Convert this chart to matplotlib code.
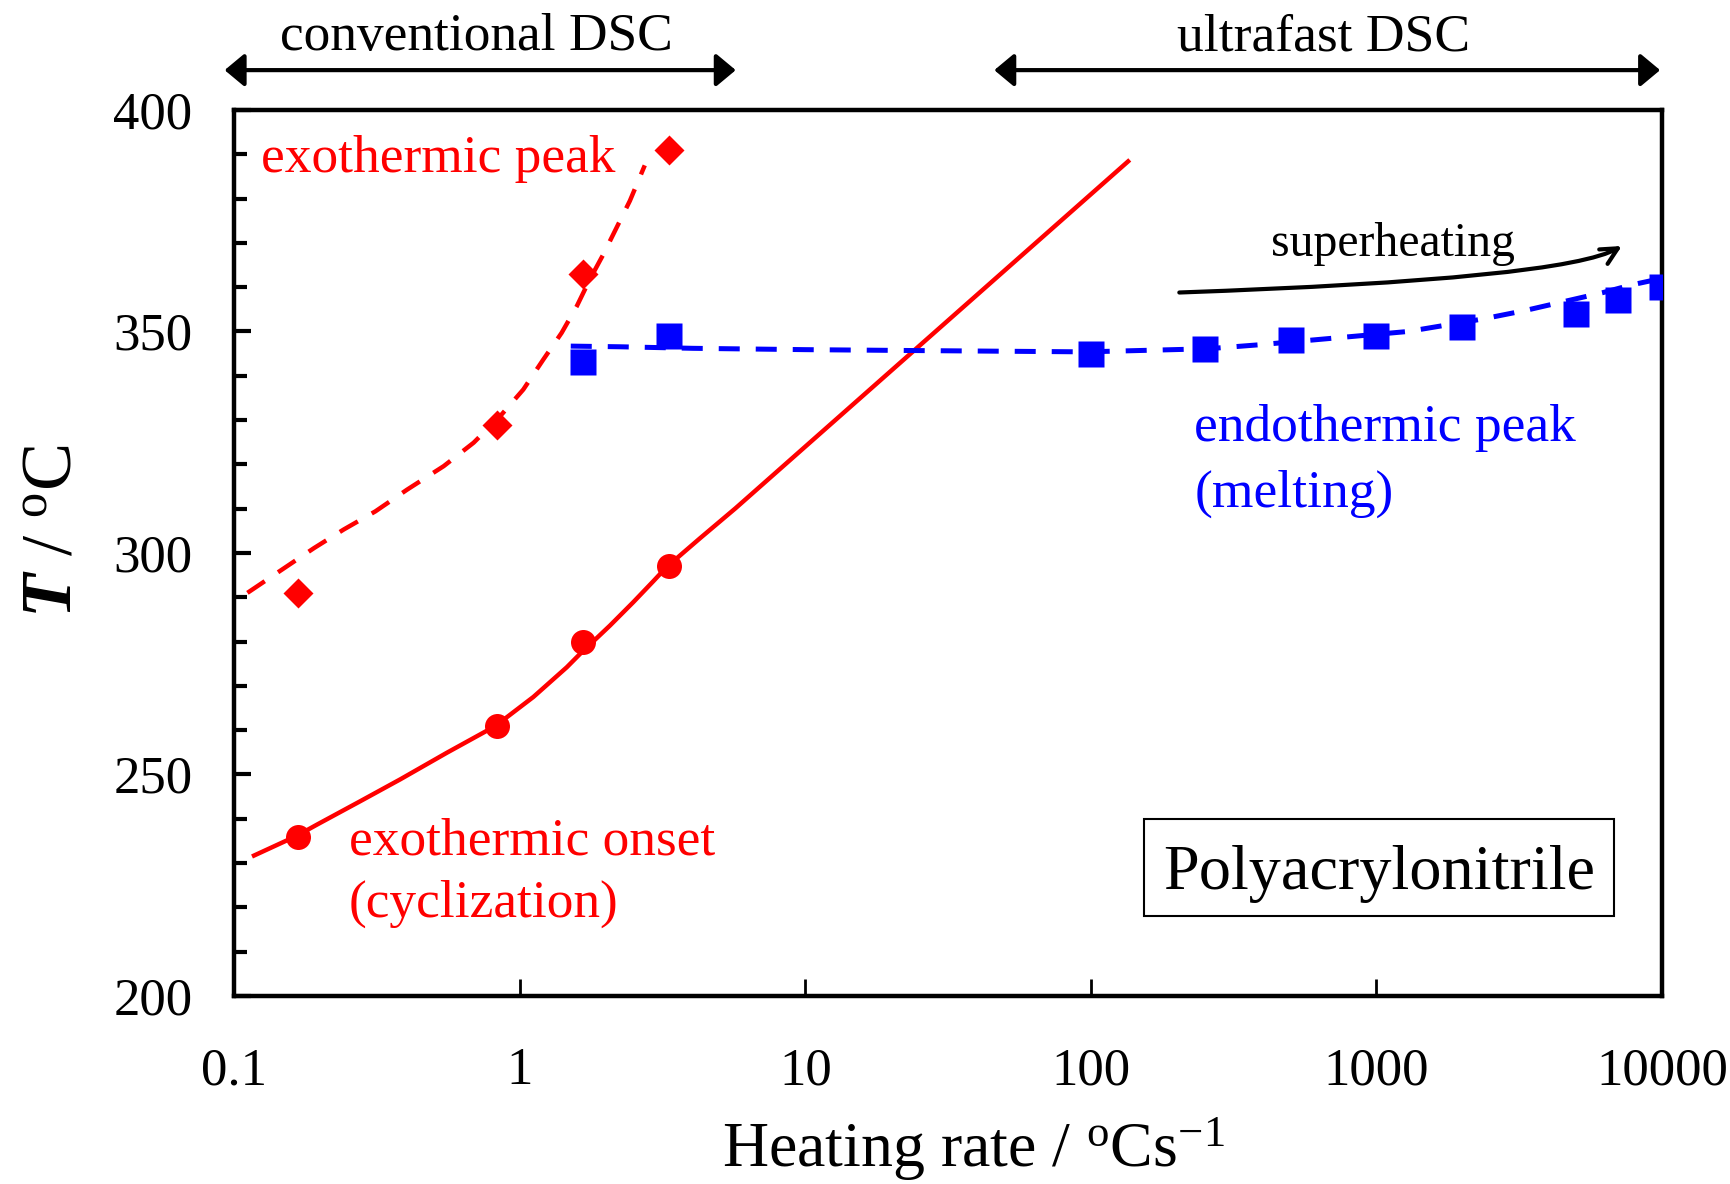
import matplotlib
matplotlib.use('Agg')
import matplotlib.pyplot as plt
from matplotlib.ticker import MultipleLocator, NullLocator, FixedLocator, FuncFormatter
from matplotlib.patches import Rectangle

plt.rcParams['font.family'] = ['Liberation Serif', 'DejaVu Serif']
plt.rcParams['mathtext.fontset'] = 'custom'
plt.rcParams['mathtext.rm'] = 'Liberation Serif'
plt.rcParams['mathtext.it'] = 'Liberation Serif:italic'
plt.rcParams['mathtext.bf'] = 'Liberation Serif:bold'
plt.rcParams['mathtext.bfit'] = 'Liberation Serif:italic:bold'

# ---- data
conv_rate = [0.167, 0.833, 1.667, 3.333]
exo_peak_T = [291, 329, 363, 391]
exo_onset_T = [236, 261, 280, 297]

melt_rate = [1.667, 3.333, 100, 250, 500, 1000, 2000, 5000, 7000, 10000]
melt_T = [343, 349, 345, 346, 348, 349, 351, 354, 357, 360]

# trend lines
peak_fit_rate = [0.1114, 0.1476, 0.1905, 0.2421, 0.3126, 0.4036, 0.5420, 0.6902,
                 0.8551, 1.030, 1.211, 1.403, 1.585, 1.762, 1.963, 2.183, 2.432, 2.742]
peak_fit_T = [291.0, 296.3, 301.1, 305.3, 309.4, 314.3, 319.6, 324.9,
              330.9, 336.9, 343.7, 349.7, 355.7, 361.8, 367.4, 373.4, 379.5, 387.5]

onset_fit_rate = [0.1175, 0.1652, 0.1954, 0.2773, 0.3819, 0.5559, 0.8204, 1.117, 1.462,
                  1.626, 2.070, 2.500, 2.935, 3.266, 4.276, 5.70, 135]
onset_fit_T = [231.7, 236.1, 238.7, 244.0, 248.9, 254.9, 260.9, 267.5, 274.2,
               277.2, 283.6, 288.9, 293.6, 296.8, 303.3, 310.1, 388.4]

melt_fit_rate = [1.51, 2.244, 4.046, 10, 23.93, 96.6, 256.4, 388.2, 653.1, 1288,
                 2344, 3296, 6223, 7798, 10000]
melt_fit_T = [346.7, 346.55, 346.2, 345.9, 345.7, 345.4, 346.1, 347.0, 348.3, 350.0,
              352.8, 354.7, 358.8, 360.5, 362]

xticks = [0.1, 1, 10, 100, 1000, 10000]

red = '#FF0000'
blue = '#0000FF'

fig = plt.figure(figsize=(17.31, 11.84), dpi=100)
ax = fig.add_axes([0.1352, 0.1588, 0.8250, 0.7483])

# lines
ax.plot(onset_fit_rate, onset_fit_T, color=red, lw=3.2, zorder=2)
ax.plot(peak_fit_rate, peak_fit_T, color=red, lw=3.2, linestyle=(0, (4.7, 3.6)), zorder=2)
ax.plot(melt_fit_rate, melt_fit_T, color=blue, lw=3.6, linestyle=(0, (4.2, 3.2)), zorder=2)

# markers
ax.plot(conv_rate, exo_peak_T, 'D', color=red, ms=15, mec='none', zorder=3)
ax.plot(conv_rate, exo_onset_T, 'o', color=red, ms=18, mec='none', zorder=3)
ax.plot(melt_rate, melt_T, 's', color=blue, ms=19, mec='none', zorder=3)

ax.set_xscale('log')
ax.set_xlim(0.1, 10000)
ax.set_ylim(200, 400)

ax.xaxis.set_major_locator(FixedLocator(xticks))
ax.xaxis.set_minor_locator(NullLocator())
ax.xaxis.set_major_formatter(FuncFormatter(lambda v, p: f'{v:g}'))
ax.yaxis.set_major_locator(MultipleLocator(50))
ax.yaxis.set_minor_locator(MultipleLocator(10))

ax.tick_params(axis='x', which='major', direction='in', length=12, width=2,
               labelsize=38, pad=37)
ax.tick_params(axis='y', which='major', direction='in', length=12, width=3,
               labelsize=38, pad=30)
ax.tick_params(axis='y', which='minor', direction='in', length=9, width=3)
for s in ax.spines.values():
    s.set_linewidth(3.2)

ax.set_xlabel(r'Heating rate / $^{\mathrm{o}}$Cs$^{-1}$', fontsize=46)
ax.xaxis.set_label_coords(0.518, -0.135)
ax.set_ylabel(r'$\mathbfit{T}$ / $^{\mathrm{o}}$C', fontsize=52)
ax.yaxis.set_label_coords(-0.104, 0.525)

# annotations inside the plot
ax.text(0.124, 386, 'exothermic peak', color=red, fontsize=38.4, ha='left', va='baseline')
ax.text(0.252, 232, 'exothermic onset', color=red, fontsize=38.4, ha='left', va='baseline')
ax.text(0.252, 217.8, '(cyclization)', color=red, fontsize=38.4, ha='left', va='baseline')
ax.text(230, 325.2, 'endothermic peak', color=blue, fontsize=38.5, ha='left', va='baseline')
ax.text(230, 310.5, '(melting)', color=blue, fontsize=38.5, ha='left', va='baseline')
ax.text(427, 367, 'superheating', color='black', fontsize=34.4, ha='left', va='baseline')

ax.annotate('', xy=(7230, 369.3), xytext=(204, 358.8),
            arrowprops=dict(arrowstyle='->,head_length=0.6,head_width=0.3',
                            connectionstyle='angle3,angleA=2,angleB=30',
                            lw=3, color='black', mutation_scale=20,
                            shrinkA=0, shrinkB=0))

ax.add_patch(Rectangle((0.637, 0.0907), 0.3292, 0.1096, transform=ax.transAxes,
                       fill=False, edgecolor='black', lw=1.5, zorder=4))
ax.text(0.8017, 0.1206, 'Polyacrylonitrile', transform=ax.transAxes,
        fontsize=46.3, ha='center', va='baseline', zorder=5)

# top range arrows
xt = ax.get_xaxis_transform()
ax.annotate('', xy=(5.71, 1.045), xytext=(0.0927, 1.045), xycoords=xt,
            annotation_clip=False,
            arrowprops=dict(arrowstyle='<|-|>,head_length=0.6,head_width=0.5',
                            lw=3, color='black', mutation_scale=20,
                            shrinkA=0, shrinkB=0))
ax.annotate('', xy=(9840, 1.045), xytext=(45.9, 1.045), xycoords=xt,
            annotation_clip=False,
            arrowprops=dict(arrowstyle='<|-|>,head_length=0.6,head_width=0.5',
                            lw=3, color='black', mutation_scale=20,
                            shrinkA=0, shrinkB=0))
ax.text(0.706, 1.0674, 'conventional DSC', transform=xt, fontsize=38.4,
        ha='center', va='baseline')
ax.text(655, 1.0674, 'ultrafast DSC', transform=xt, fontsize=38.5,
        ha='center', va='baseline')

fig.savefig('out.png', dpi=100)
